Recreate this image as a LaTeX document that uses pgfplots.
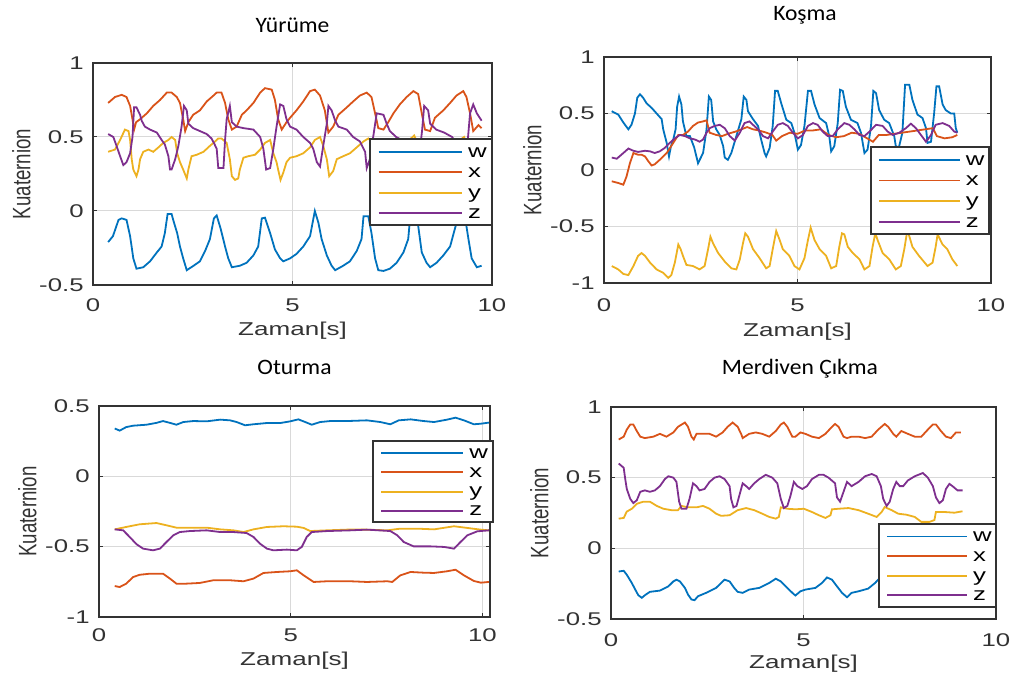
\documentclass[border=0pt]{standalone}
\usepackage{fontspec}
\setmainfont{Liberation Sans}
\newfontfamily\sxf[FakeStretch=1.4]{Liberation Sans}
\newfontfamily\ylf[FakeStretch=0.74]{Liberation Sans}
\newfontfamily\titlefont[FakeStretch=1.07]{Carlito}
\usepackage{pgfplots}
\pgfplotsset{compat=1.18}

\definecolor{mw}{rgb}{0,0.447,0.741}
\definecolor{mx}{rgb}{0.85,0.325,0.098}
\definecolor{my}{rgb}{0.929,0.694,0.125}
\definecolor{mz}{rgb}{0.494,0.184,0.556}

\pgfplotsset{
  quat/.style={
    scale only axis, anchor=south west,
    xmin=0, xmax=10,
    xtick={0,5,10}, xticklabels={0,5,10},
    grid=major, grid style={line width=0.5pt, draw=black!15},
    axis line style={line width=0.6pt, draw=black!80},
    tick align=inside, tick pos=both, major tick length=2pt,
    tick style={line width=0.5pt, draw=black!80},
    ticklabel style={font=\sxf\fontsize{9.2}{10}\selectfont, text=black!80, inner sep=0pt},
    xticklabel style={anchor=north, yshift=-6.5pt},
    yticklabel style={anchor=east, xshift=-4.5pt},
    xlabel={Zaman[s]},
    ylabel={Kuaternion},
    every axis x label/.style={at={(axis description cs:0.5,0)}, anchor=north, inner sep=0pt,
      yshift=-18.5pt, font=\sxf\fontsize{9.3}{11}\selectfont, text=black!80},
    every axis y label/.style={at={(axis description cs:0,0.5)}, xshift=-31pt, rotate=90, anchor=south,
      inner sep=0pt, font=\ylf\fontsize{12.6}{14}\selectfont, text=black!80},
    every axis title shift=0pt,
    title style={at={(axis description cs:0.5,1)}, anchor=base, font=\titlefont\fontsize{11}{12}\selectfont, inner sep=0pt},
    every axis plot/.append style={line width=0.9pt},
  },
  % small axis that holds the legend box of one panel
  leg/.style={
    scale only axis, anchor=south west,
    xmin=0, xmax=1, ymin=0, ymax=1,
    xtick=\empty, ytick=\empty,
    axis line style={line width=0.6pt, draw=black!80},
    axis background/.style={fill=white},
    clip=false,
    every axis plot/.append style={line width=0.9pt},
  },
}
\newcommand{\legtext}{%
  \node[anchor=mid west, inner sep=0pt, font=\sxf\fontsize{9.2}{10}\selectfont] at (axis cs:0.80,0.85) {w};
  \node[anchor=mid west, inner sep=0pt, font=\sxf\fontsize{9.2}{10}\selectfont] at (axis cs:0.80,0.615) {x};
  \node[anchor=mid west, inner sep=0pt, font=\sxf\fontsize{9.2}{10}\selectfont] at (axis cs:0.80,0.375) {y};
  \node[anchor=mid west, inner sep=0pt, font=\sxf\fontsize{9.2}{10}\selectfont] at (axis cs:0.80,0.14) {z};}
\newcommand{\leglines}{%
  \addplot[draw=mw] coordinates {(0.07,0.85) (0.75,0.85)};
  \addplot[draw=mx] coordinates {(0.07,0.615) (0.75,0.615)};
  \addplot[draw=my] coordinates {(0.07,0.375) (0.75,0.375)};
  \addplot[draw=mz] coordinates {(0.07,0.14) (0.75,0.14)};}

\begin{document}
\begin{tikzpicture}
\useasboundingbox (0,0) rectangle (507pt,340pt);

% ---------------- Yurume
\begin{axis}[quat, at={(46.5pt,197.5pt)}, width=199.5pt, height=111pt,
  ymin=-0.5, ymax=1, ytick={-0.5,0,0.5,1}, yticklabels={-0.5,0,0.5,1},
  title={Yürüme}, title style={yshift=15pt}]
\addplot[draw=mw] coordinates {(0.38,-0.21) (0.50,-0.17) (0.64,-0.06) (0.72,-0.05) (0.84,-0.06) (0.93,-0.17) (1.01,-0.32) (1.09,-0.39) (1.26,-0.38) (1.43,-0.34) (1.60,-0.28) (1.72,-0.24) (1.80,-0.15) (1.87,-0.02) (1.97,-0.02) (2.01,-0.06) (2.11,-0.15) (2.18,-0.24) (2.26,-0.32) (2.35,-0.40) (2.52,-0.37) (2.68,-0.34) (2.81,-0.27) (2.93,-0.19) (3.03,-0.05) (3.10,-0.03) (3.20,-0.12) (3.31,-0.24) (3.39,-0.32) (3.48,-0.38) (3.68,-0.37) (3.85,-0.35) (4.02,-0.30) (4.14,-0.24) (4.23,-0.05) (4.31,-0.045) (4.44,-0.15) (4.56,-0.26) (4.69,-0.32) (4.77,-0.34) (4.94,-0.32) (5.10,-0.29) (5.27,-0.24) (5.44,-0.17) (5.56,0) (5.65,-0.08) (5.73,-0.19) (5.86,-0.30) (5.98,-0.37) (6.07,-0.40) (6.27,-0.37) (6.44,-0.34) (6.61,-0.27) (6.73,-0.19) (6.78,-0.035) (6.90,-0.035) (6.98,-0.15) (7.07,-0.32) (7.15,-0.40) (7.28,-0.405) (7.44,-0.39) (7.61,-0.35) (7.78,-0.28) (7.90,-0.19) (7.95,-0.04) (8.05,-0.04) (8.15,-0.10) (8.24,-0.28) (8.36,-0.35) (8.45,-0.38) (8.61,-0.35) (8.78,-0.30) (8.95,-0.24) (9.07,-0.12) (9.16,-0.035) (9.32,-0.035) (9.41,-0.19) (9.49,-0.32) (9.62,-0.38) (9.74,-0.37)};
\addplot[draw=mx] coordinates {(0.38,0.73) (0.55,0.77) (0.72,0.785) (0.84,0.77) (0.93,0.71) (0.99,0.62) (1.03,0.55) (1.08,0.60) (1.18,0.62) (1.35,0.66) (1.51,0.71) (1.68,0.75) (1.85,0.80) (1.97,0.80) (2.10,0.77) (2.18,0.73) (2.26,0.62) (2.31,0.54) (2.39,0.60) (2.51,0.65) (2.68,0.68) (2.85,0.74) (3.02,0.78) (3.10,0.80) (3.22,0.80) (3.31,0.73) (3.39,0.62) (3.48,0.55) (3.60,0.57) (3.73,0.65) (3.85,0.68) (4.02,0.73) (4.19,0.80) (4.31,0.83) (4.48,0.82) (4.56,0.75) (4.64,0.62) (4.73,0.55) (4.85,0.60) (4.94,0.63) (5.10,0.68) (5.27,0.74) (5.44,0.81) (5.56,0.82) (5.69,0.78) (5.81,0.68) (5.90,0.53) (6.02,0.57) (6.15,0.65) (6.36,0.70) (6.52,0.74) (6.69,0.78) (6.86,0.80) (6.98,0.77) (7.07,0.66) (7.15,0.56) (7.28,0.55) (7.40,0.60) (7.53,0.66) (7.69,0.72) (7.86,0.77) (8.03,0.81) (8.15,0.79) (8.24,0.66) (8.32,0.55) (8.45,0.54) (8.57,0.63) (8.78,0.68) (8.95,0.73) (9.11,0.78) (9.28,0.81) (9.36,0.77) (9.45,0.66) (9.53,0.54) (9.66,0.58) (9.74,0.56)};
\addplot[draw=my] coordinates {(0.38,0.40) (0.55,0.415) (0.68,0.48) (0.80,0.55) (0.89,0.54) (0.93,0.48) (0.97,0.35) (1.01,0.28) (1.09,0.235) (1.14,0.28) (1.18,0.35) (1.26,0.40) (1.39,0.415) (1.51,0.40) (1.64,0.43) (1.76,0.46) (1.89,0.48) (1.97,0.50) (2.06,0.48) (2.11,0.39) (2.18,0.33) (2.26,0.28) (2.35,0.22) (2.39,0.28) (2.47,0.37) (2.60,0.38) (2.77,0.40) (2.93,0.44) (3.06,0.47) (3.14,0.49) (3.22,0.49) (3.35,0.46) (3.43,0.35) (3.48,0.235) (3.56,0.21) (3.64,0.22) (3.68,0.28) (3.77,0.36) (3.89,0.37) (4.06,0.38) (4.19,0.415) (4.31,0.46) (4.44,0.48) (4.52,0.39) (4.60,0.33) (4.64,0.28) (4.70,0.21) (4.77,0.26) (4.85,0.33) (4.94,0.36) (5.10,0.37) (5.27,0.39) (5.44,0.43) (5.56,0.48) (5.69,0.50) (5.77,0.44) (5.86,0.35) (5.92,0.235) (6.02,0.27) (6.11,0.35) (6.27,0.37) (6.44,0.39) (6.61,0.43) (6.78,0.47) (6.90,0.49) (7.05,0.45) (7.15,0.24) (7.28,0.30) (7.40,0.37) (7.60,0.40) (7.85,0.46) (8.05,0.51) (8.15,0.45) (8.25,0.24) (8.35,0.27) (8.50,0.37) (8.75,0.40) (9.05,0.45) (9.30,0.50) (9.40,0.42) (9.47,0.23) (9.58,0.30) (9.74,0.48)};
\addplot[draw=mz] coordinates {(0.38,0.52) (0.51,0.50) (0.59,0.44) (0.68,0.37) (0.76,0.31) (0.84,0.33) (0.93,0.39) (0.99,0.50) (1.03,0.70) (1.09,0.70) (1.18,0.65) (1.22,0.61) (1.30,0.57) (1.43,0.55) (1.60,0.53) (1.72,0.48) (1.80,0.45) (1.89,0.37) (1.93,0.28) (1.97,0.28) (2.06,0.35) (2.14,0.44) (2.22,0.57) (2.28,0.71) (2.35,0.68) (2.39,0.59) (2.51,0.56) (2.68,0.54) (2.85,0.52) (2.97,0.49) (3.03,0.46) (3.10,0.42) (3.14,0.29) (3.27,0.29) (3.31,0.48) (3.35,0.62) (3.43,0.71) (3.48,0.60) (3.60,0.57) (3.77,0.56) (4.02,0.55) (4.19,0.50) (4.27,0.42) (4.34,0.28) (4.44,0.29) (4.52,0.42) (4.60,0.57) (4.69,0.72) (4.77,0.71) (4.85,0.62) (4.94,0.57) (5.10,0.55) (5.27,0.50) (5.44,0.46) (5.52,0.42) (5.61,0.33) (5.69,0.30) (5.77,0.44) (5.86,0.59) (5.90,0.71) (5.98,0.68) (6.07,0.61) (6.15,0.57) (6.36,0.55) (6.52,0.50) (6.69,0.47) (6.82,0.40) (6.86,0.29) (6.94,0.35) (7.11,0.66) (7.28,0.65) (7.36,0.59) (7.44,0.54) (7.60,0.50) (7.80,0.47) (7.95,0.40) (8.05,0.28) (8.15,0.30) (8.25,0.55) (8.30,0.71) (8.40,0.68) (8.45,0.59) (8.60,0.55) (8.80,0.53) (9.00,0.50) (9.15,0.44) (9.25,0.30) (9.33,0.30) (9.40,0.50) (9.45,0.66) (9.53,0.72) (9.62,0.66) (9.74,0.61)};
\end{axis}
\begin{axis}[leg, at={(185pt,227.5pt)}, width=61pt, height=43pt]
\leglines
\legtext
\end{axis}

% ---------------- Kosma
\begin{axis}[quat, at={(302pt,198.5pt)}, width=193.5pt, height=113pt,
  ymin=-1, ymax=1, ytick={-1,-0.5,0,0.5,1}, yticklabels={-1,-0.5,0,0.5,1},
  every axis x label/.append style={yshift=-1.5pt},
  xticklabel style={yshift=-1pt},
  title={Koşma}, title style={yshift=18pt, xshift=3.75pt}]
\addplot[draw=mw] coordinates {(0.20,0.52) (0.37,0.49) (0.50,0.42) (0.63,0.36) (0.71,0.40) (0.80,0.50) (0.86,0.64) (0.93,0.67) (1.01,0.64) (1.10,0.59) (1.23,0.55) (1.36,0.50) (1.49,0.45) (1.53,0.36) (1.62,0.24) (1.68,0.12) (1.73,0.21) (1.79,0.27) (1.85,0.36) (1.89,0.56) (1.94,0.65) (2.00,0.58) (2.04,0.43) (2.13,0.30) (2.22,0.30) (2.33,0.20) (2.43,0.06) (2.56,0.15) (2.65,0.36) (2.71,0.65) (2.77,0.62) (2.82,0.43) (2.90,0.36) (2.99,0.31) (3.08,0.21) (3.12,0.11) (3.20,0.09) (3.29,0.15) (3.42,0.30) (3.55,0.45) (3.61,0.65) (3.68,0.62) (3.72,0.52) (3.85,0.45) (3.98,0.39) (4.06,0.27) (4.15,0.15) (4.19,0.12) (4.28,0.195) (4.36,0.39) (4.42,0.70) (4.49,0.70) (4.58,0.59) (4.71,0.445) (4.84,0.415) (4.92,0.33) (5.01,0.18) (5.09,0.22) (5.18,0.39) (5.27,0.70) (5.35,0.70) (5.44,0.58) (5.57,0.46) (5.74,0.415) (5.82,0.30) (5.87,0.165) (5.95,0.21) (6.04,0.415) (6.10,0.71) (6.17,0.70) (6.25,0.56) (6.38,0.445) (6.55,0.415) (6.64,0.33) (6.73,0.15) (6.81,0.18) (6.90,0.39) (6.96,0.70) (7.03,0.68) (7.11,0.53) (7.24,0.445) (7.37,0.415) (7.50,0.30) (7.54,0.21) (7.62,0.20) (7.71,0.33) (7.78,0.755) (7.89,0.755) (7.97,0.62) (8.10,0.49) (8.23,0.46) (8.32,0.37) (8.36,0.24) (8.45,0.25) (8.53,0.50) (8.59,0.74) (8.66,0.74) (8.75,0.58) (8.83,0.53) (8.96,0.50) (9.05,0.50) (9.09,0.37) (9.13,0.33)};
\addplot[draw=mx] coordinates {(0.20,-0.10) (0.37,-0.115) (0.50,-0.13) (0.58,-0.06) (0.67,0.06) (0.76,0.15) (0.88,0.135) (0.97,0.135) (1.06,0.12) (1.14,0.08) (1.23,0.04) (1.31,0.05) (1.44,0.09) (1.62,0.15) (1.79,0.24) (1.92,0.31) (2.04,0.31) (2.17,0.34) (2.30,0.39) (2.43,0.42) (2.56,0.43) (2.65,0.44) (2.73,0.33) (2.90,0.31) (3.05,0.30) (3.20,0.32) (3.40,0.34) (3.55,0.36) (3.70,0.38) (3.85,0.36) (4.00,0.35) (4.20,0.33) (4.35,0.31) (4.45,0.26) (4.60,0.30) (4.80,0.33) (5.00,0.32) (5.20,0.35) (5.40,0.35) (5.60,0.36) (5.80,0.31) (6.00,0.29) (6.20,0.30) (6.40,0.33) (6.60,0.32) (6.80,0.28) (6.95,0.25) (7.10,0.31) (7.30,0.31) (7.50,0.32) (7.70,0.33) (7.90,0.34) (8.10,0.35) (8.30,0.36) (8.50,0.37) (8.60,0.30) (8.80,0.28) (9.00,0.29) (9.13,0.31)};
\addplot[draw=my] coordinates {(0.20,-0.85) (0.37,-0.88) (0.50,-0.92) (0.63,-0.93) (0.76,-0.85) (0.88,-0.76) (0.97,-0.735) (1.06,-0.76) (1.19,-0.82) (1.36,-0.88) (1.53,-0.91) (1.66,-0.955) (1.74,-0.93) (1.83,-0.82) (1.92,-0.66) (1.98,-0.70) (2.04,-0.76) (2.13,-0.84) (2.30,-0.85) (2.47,-0.88) (2.60,-0.85) (2.69,-0.70) (2.75,-0.59) (2.82,-0.65) (2.95,-0.735) (3.12,-0.81) (3.29,-0.87) (3.42,-0.88) (3.51,-0.79) (3.59,-0.65) (3.65,-0.56) (3.72,-0.59) (3.85,-0.70) (4.02,-0.78) (4.19,-0.87) (4.28,-0.85) (4.36,-0.70) (4.45,-0.54) (4.54,-0.62) (4.62,-0.70) (4.79,-0.76) (4.92,-0.85) (5.05,-0.88) (5.18,-0.78) (5.27,-0.62) (5.34,-0.51) (5.44,-0.62) (5.57,-0.70) (5.74,-0.76) (5.87,-0.87) (6.00,-0.85) (6.08,-0.68) (6.15,-0.56) (6.21,-0.57) (6.30,-0.68) (6.43,-0.735) (6.60,-0.79) (6.73,-0.88) (6.86,-0.85) (6.94,-0.68) (7.01,-0.56) (7.07,-0.62) (7.20,-0.735) (7.37,-0.79) (7.54,-0.88) (7.67,-0.85) (7.76,-0.70) (7.84,-0.53) (7.97,-0.68) (8.14,-0.76) (8.36,-0.85) (8.49,-0.82) (8.57,-0.68) (8.62,-0.57) (8.75,-0.66) (8.87,-0.70) (9.00,-0.79) (9.13,-0.85)};
\addplot[draw=mz] coordinates {(0.20,0.11) (0.33,0.10) (0.50,0.15) (0.63,0.19) (0.76,0.17) (0.88,0.16) (1.06,0.17) (1.19,0.165) (1.31,0.15) (1.44,0.165) (1.57,0.195) (1.70,0.24) (1.83,0.28) (1.96,0.31) (2.09,0.30) (2.22,0.28) (2.35,0.27) (2.47,0.25) (2.56,0.27) (2.65,0.33) (2.73,0.37) (2.86,0.39) (2.99,0.40) (3.12,0.37) (3.25,0.30) (3.38,0.26) (3.51,0.33) (3.63,0.415) (3.76,0.43) (3.85,0.40) (3.98,0.36) (4.11,0.30) (4.24,0.28) (4.36,0.34) (4.49,0.40) (4.62,0.415) (4.75,0.39) (4.88,0.33) (5.01,0.28) (5.14,0.31) (5.27,0.39) (5.40,0.415) (5.52,0.40) (5.65,0.34) (5.78,0.30) (5.91,0.30) (6.04,0.36) (6.21,0.415) (6.34,0.40) (6.47,0.36) (6.60,0.31) (6.73,0.30) (6.86,0.34) (7.03,0.40) (7.20,0.39) (7.33,0.34) (7.46,0.31) (7.63,0.33) (7.80,0.37) (7.93,0.41) (8.06,0.37) (8.19,0.31) (8.32,0.25) (8.45,0.31) (8.57,0.40) (8.75,0.415) (8.92,0.39) (9.05,0.34) (9.13,0.33)};
\end{axis}
\begin{axis}[leg, at={(435.5pt,223pt)}, width=59pt, height=43.5pt]
\leglines
\legtext
\end{axis}

% ---------------- Oturma
\begin{axis}[quat, at={(49.5pt,31.5pt)}, width=195.5pt, height=105.5pt,
  xmax=10.2, ymin=-1, ymax=0.5, ytick={-1,-0.5,0,0.5}, yticklabels={-1,-0.5,0,0.5},
  every axis x label/.append style={yshift=1pt},
  xticklabel style={yshift=1pt},
  title={Oturma}, title style={yshift=15.5pt}]
\addplot[draw=mw] coordinates {(0.41,0.34) (0.54,0.325) (0.71,0.35) (0.89,0.36) (1.24,0.367) (1.50,0.38) (1.67,0.393) (1.85,0.38) (2.02,0.367) (2.20,0.386) (2.46,0.393) (2.81,0.391) (3.16,0.403) (3.42,0.398) (3.59,0.386) (3.81,0.363) (4.03,0.37) (4.38,0.379) (4.73,0.379) (4.99,0.391) (5.20,0.405) (5.38,0.386) (5.55,0.367) (5.77,0.386) (6.03,0.393) (6.47,0.393) (6.99,0.398) (7.34,0.386) (7.60,0.37) (7.82,0.398) (8.13,0.405) (8.47,0.393) (8.74,0.386) (9.08,0.403) (9.30,0.417) (9.52,0.398) (9.78,0.37) (9.96,0.374) (10.17,0.382)};
\addplot[draw=mx] coordinates {(0.41,-0.78) (0.54,-0.787) (0.71,-0.763) (0.89,-0.716) (1.06,-0.70) (1.33,-0.692) (1.67,-0.692) (1.85,-0.727) (2.02,-0.763) (2.28,-0.763) (2.63,-0.758) (2.98,-0.739) (3.42,-0.739) (3.77,-0.746) (4.03,-0.727) (4.29,-0.687) (4.64,-0.68) (4.99,-0.675) (5.16,-0.668) (5.34,-0.704) (5.60,-0.751) (5.95,-0.746) (6.56,-0.746) (6.99,-0.751) (7.52,-0.746) (7.65,-0.751) (7.86,-0.704) (8.13,-0.68) (8.47,-0.685) (8.74,-0.687) (9.08,-0.675) (9.30,-0.664) (9.52,-0.704) (9.78,-0.744) (9.96,-0.756) (10.17,-0.751)};
\addplot[draw=my] coordinates {(0.41,-0.377) (0.71,-0.36) (1.06,-0.341) (1.50,-0.332) (1.76,-0.348) (2.02,-0.365) (2.46,-0.365) (2.81,-0.365) (3.16,-0.377) (3.51,-0.384) (3.77,-0.396) (4.03,-0.377) (4.38,-0.36) (4.81,-0.355) (5.16,-0.358) (5.34,-0.367) (5.51,-0.389) (5.95,-0.384) (6.47,-0.379) (6.99,-0.379) (7.52,-0.384) (7.86,-0.372) (8.30,-0.372) (8.74,-0.377) (9.26,-0.355) (9.61,-0.367) (9.96,-0.379) (10.17,-0.384)};
\addplot[draw=mz] coordinates {(0.41,-0.377) (0.63,-0.384) (0.80,-0.431) (0.98,-0.483) (1.15,-0.514) (1.41,-0.526) (1.59,-0.514) (1.76,-0.467) (1.94,-0.419) (2.11,-0.396) (2.37,-0.389) (2.81,-0.384) (3.16,-0.396) (3.50,-0.396) (3.85,-0.403) (4.03,-0.431) (4.20,-0.479) (4.38,-0.514) (4.55,-0.526) (4.90,-0.521) (5.16,-0.526) (5.29,-0.502) (5.42,-0.431) (5.55,-0.396) (5.95,-0.389) (6.56,-0.384) (6.99,-0.379) (7.60,-0.389) (7.78,-0.419) (7.95,-0.467) (8.21,-0.498) (8.65,-0.498) (9.00,-0.502) (9.26,-0.514) (9.43,-0.467) (9.61,-0.419) (9.87,-0.391) (10.17,-0.384)};
\end{axis}
\begin{axis}[leg, at={(186.5pt,79pt)}, width=60pt, height=40.5pt]
\leglines
\legtext
\end{axis}

% ---------------- Merdiven Cikma
\begin{axis}[quat, at={(305.5pt,30.5pt)}, width=192.5pt, height=106pt,
  ymin=-0.5, ymax=1, ytick={-0.5,0,0.5,1}, yticklabels={-0.5,0,0.5,1},
  every axis x label/.append style={yshift=0.5pt},
  xticklabel style={yshift=-0.5pt},
  title={Merdiven Çıkma}, title style={yshift=16pt, xshift=-1.75pt}]
\addplot[draw=mw] coordinates {(0.20,-0.164) (0.33,-0.159) (0.41,-0.187) (0.54,-0.245) (0.63,-0.292) (0.71,-0.332) (0.80,-0.35) (0.88,-0.332) (1.01,-0.308) (1.27,-0.299) (1.49,-0.269) (1.62,-0.234) (1.70,-0.222) (1.79,-0.234) (1.92,-0.28) (2.00,-0.327) (2.09,-0.362) (2.17,-0.367) (2.26,-0.339) (2.47,-0.315) (2.73,-0.28) (2.86,-0.245) (2.95,-0.222) (3.08,-0.234) (3.20,-0.28) (3.29,-0.308) (3.42,-0.315) (3.59,-0.292) (3.85,-0.28) (4.11,-0.245) (4.28,-0.215) (4.41,-0.234) (4.58,-0.28) (4.71,-0.315) (4.79,-0.334) (4.92,-0.304) (5.05,-0.292) (5.31,-0.28) (5.48,-0.245) (5.61,-0.206) (5.74,-0.222) (5.87,-0.269) (6.00,-0.315) (6.13,-0.346) (6.25,-0.315) (6.43,-0.304) (6.68,-0.285) (6.86,-0.245) (6.98,-0.21) (7.10,-0.25) (7.25,-0.33) (7.40,-0.30) (7.70,-0.27) (8.00,-0.24) (8.25,-0.21) (8.45,-0.26) (8.65,-0.33) (8.80,-0.31) (9.00,-0.29) (9.13,-0.28)};
\addplot[draw=mx] coordinates {(0.20,0.77) (0.33,0.79) (0.41,0.84) (0.50,0.876) (0.58,0.876) (0.67,0.83) (0.76,0.79) (0.88,0.78) (1.10,0.79) (1.27,0.81) (1.44,0.79) (1.62,0.82) (1.74,0.86) (1.92,0.89) (2.00,0.86) (2.09,0.79) (2.15,0.77) (2.22,0.81) (2.39,0.81) (2.56,0.81) (2.73,0.79) (2.90,0.82) (3.03,0.86) (3.16,0.89) (3.29,0.86) (3.38,0.81) (3.42,0.78) (3.59,0.81) (3.76,0.82) (3.93,0.81) (4.11,0.79) (4.28,0.83) (4.41,0.876) (4.49,0.89) (4.58,0.86) (4.71,0.79) (4.79,0.79) (4.92,0.82) (5.05,0.81) (5.22,0.79) (5.40,0.78) (5.57,0.81) (5.74,0.86) (5.82,0.88) (5.91,0.86) (6.04,0.79) (6.13,0.78) (6.25,0.79) (6.43,0.79) (6.60,0.78) (6.77,0.79) (6.94,0.84) (7.11,0.88) (7.20,0.86) (7.33,0.81) (7.41,0.79) (7.54,0.83) (7.71,0.81) (7.89,0.79) (8.06,0.79) (8.23,0.84) (8.36,0.876) (8.44,0.876) (8.57,0.83) (8.70,0.79) (8.83,0.78) (8.96,0.82) (9.09,0.82)};
\addplot[draw=my] coordinates {(0.20,0.21) (0.33,0.215) (0.41,0.26) (0.54,0.28) (0.67,0.315) (0.84,0.33) (1.01,0.33) (1.19,0.30) (1.36,0.28) (1.57,0.27) (1.74,0.27) (1.83,0.30) (2.00,0.29) (2.22,0.29) (2.39,0.30) (2.56,0.28) (2.73,0.245) (2.86,0.23) (3.08,0.234) (3.29,0.27) (3.51,0.285) (3.72,0.27) (3.93,0.245) (4.11,0.222) (4.28,0.21) (4.36,0.222) (4.41,0.29) (4.58,0.28) (4.79,0.276) (5.01,0.28) (5.22,0.257) (5.40,0.234) (5.57,0.215) (5.70,0.234) (5.74,0.276) (5.91,0.28) (6.17,0.285) (6.43,0.27) (6.68,0.245) (6.90,0.222) (7.03,0.257) (7.11,0.292) (7.29,0.27) (7.46,0.245) (7.67,0.238) (7.89,0.222) (8.06,0.187) (8.27,0.187) (8.40,0.20) (8.44,0.257) (8.66,0.257) (8.92,0.252) (9.13,0.262)};
\addplot[draw=mz] coordinates {(0.20,0.60) (0.33,0.57) (0.37,0.49) (0.41,0.42) (0.50,0.35) (0.58,0.32) (0.67,0.34) (0.76,0.40) (0.88,0.41) (1.01,0.40) (1.14,0.41) (1.27,0.44) (1.40,0.49) (1.49,0.51) (1.62,0.50) (1.70,0.47) (1.77,0.33) (1.83,0.28) (1.96,0.28) (2.04,0.35) (2.13,0.46) (2.22,0.44) (2.30,0.41) (2.43,0.42) (2.56,0.47) (2.69,0.50) (2.82,0.51) (2.95,0.49) (3.08,0.44) (3.12,0.35) (3.18,0.29) (3.26,0.30) (3.33,0.37) (3.42,0.46) (3.51,0.44) (3.59,0.42) (3.72,0.46) (3.85,0.49) (4.02,0.52) (4.19,0.50) (4.32,0.46) (4.41,0.35) (4.49,0.285) (4.58,0.30) (4.66,0.37) (4.75,0.47) (4.84,0.44) (4.97,0.42) (5.09,0.44) (5.22,0.49) (5.40,0.52) (5.52,0.52) (5.65,0.50) (5.82,0.46) (5.87,0.36) (5.95,0.33) (6.04,0.40) (6.13,0.47) (6.25,0.44) (6.43,0.47) (6.60,0.51) (6.77,0.526) (6.90,0.51) (7.01,0.44) (7.07,0.35) (7.16,0.30) (7.24,0.33) (7.33,0.42) (7.41,0.47) (7.50,0.44) (7.59,0.44) (7.71,0.48) (7.89,0.51) (8.10,0.533) (8.23,0.50) (8.36,0.44) (8.44,0.36) (8.53,0.32) (8.62,0.34) (8.70,0.42) (8.79,0.456) (8.87,0.44) (9.00,0.41) (9.13,0.41)};
\end{axis}
\begin{axis}[leg, at={(439.5pt,36.5pt)}, width=58.5pt, height=41.5pt]
\leglines
\legtext
\end{axis}
\end{tikzpicture}
\end{document}
